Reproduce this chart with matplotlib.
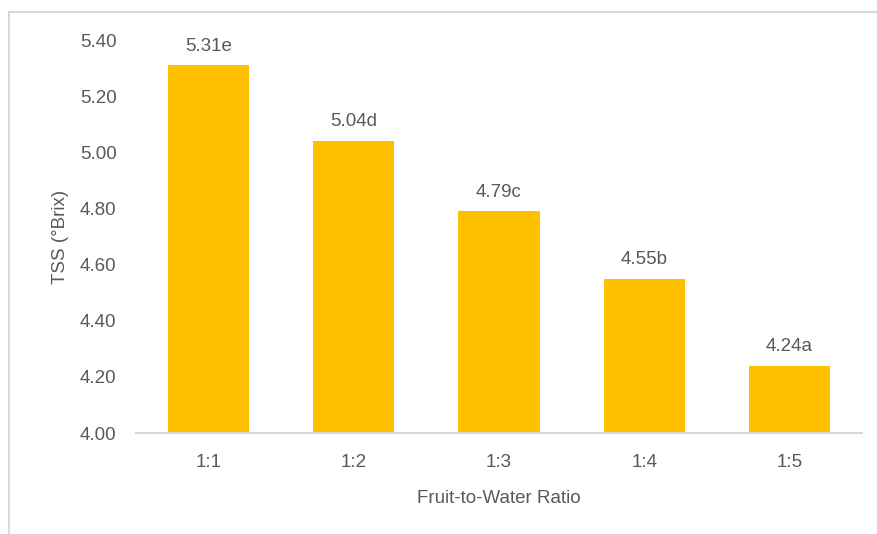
import matplotlib.pyplot as plt
from matplotlib.patches import Rectangle

# TSS by fruit-to-water ratio
ratios = ["1:1", "1:2", "1:3", "1:4", "1:5"]
tss = [5.31, 5.04, 4.79, 4.55, 4.24]
letters = ["e", "d", "c", "b", "a"]

plt.rcParams["font.family"] = ["Liberation Sans", "DejaVu Sans"]
grey = "#595959"
fs = 13.5

fig = plt.figure(figsize=(8.77, 5.34), dpi=100)
ax = fig.add_axes([0.155, 0.189, 0.828, 0.736])

x = range(len(ratios))
ax.bar(x, tss, width=0.56, color="#FFC000", zorder=2)

for xi, v, l in zip(x, tss, letters):
    ax.text(xi, v + 0.038, "%.2f%s" % (v, l), ha="center", va="bottom",
            fontsize=fs, color=grey)

ax.set_ylim(4.0, 5.4)
ax.set_xlim(-0.5, len(ratios) - 0.5)
ax.set_yticks([4.0 + 0.2 * i for i in range(8)])
ax.set_yticklabels(["%.2f" % (4.0 + 0.2 * i) for i in range(8)])
ax.set_xticks(list(x))
ax.set_xticklabels(ratios)
ax.tick_params(axis="both", length=0, labelsize=fs, colors=grey)
ax.tick_params(axis="y", pad=14)
ax.tick_params(axis="x", pad=15)

for s in ["top", "right", "left"]:
    ax.spines[s].set_visible(False)
ax.spines["bottom"].set_color("#d9d9d9")
ax.spines["bottom"].set_linewidth(1.5)

ax.set_ylabel("TSS (°Brix)", fontsize=fs, color=grey, labelpad=8)
ax.set_xlabel("Fruit-to-Water Ratio", fontsize=fs, color=grey, labelpad=14)

# chart area border
fig.patches.append(Rectangle((9 / 877, -0.1), 1.1, 1.1 - 12 / 534,
                             transform=fig.transFigure, fill=False,
                             edgecolor="#d9d9d9", linewidth=1.5))

fig.savefig("out.png", dpi=100)
